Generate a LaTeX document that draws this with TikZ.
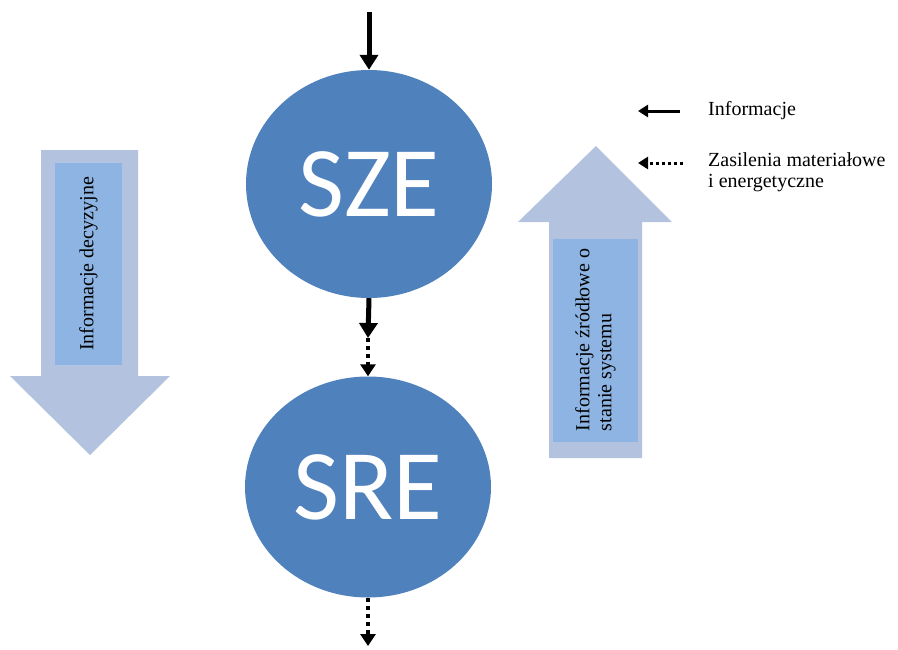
\documentclass[tikz,border=0pt]{standalone}
\usepackage{fontspec}
\setmainfont{Liberation Serif}
\newfontfamily\kolofont{Carlito}
\usetikzlibrary{shapes.geometric,arrows.meta}
\definecolor{kolo}{HTML}{4F81BD}
\definecolor{strzalka}{HTML}{B3C3DF}
\definecolor{pole}{HTML}{8DB4E2}
\tikzset{
  uklad/.style={ellipse,fill=kolo,inner sep=0pt,minimum width=246pt,
    text=white,font=\kolofont\fontsize{100}{100}\selectfont},
  info/.style={line width=5pt,-{Triangle[width=18pt,length=15pt]}},
  zasil/.style={line width=4pt,dash pattern=on 4pt off 4pt,
    -{Triangle[width=15pt,length=12pt]}},
  poleopis/.style={fill=pole,inner sep=0pt,rotate=90,
    font=\fontsize{20}{22}\selectfont},
  legenda/.style={font=\fontsize{20}{21}\selectfont,align=left,anchor=west,inner sep=0pt}
}
\begin{document}
\begin{tikzpicture}[x=1pt,y=-1pt]
  \useasboundingbox (0,0) rectangle (898,649);
  % duze strzalki - tlo
  \fill[strzalka] (41,150) -- (138,150) -- (138,376) -- (170,376) -- (90,455)
    -- (10,376) -- (41,376) -- cycle;
  \fill[strzalka] (549,458) -- (549,222) -- (518,222) -- (596,146) -- (672,222)
    -- (642,222) -- (642,458) -- cycle;
  \node[poleopis,minimum width=202pt,minimum height=67pt] (decyzje) at (88.5,264)
    {Informacje decyzyjne};
  \node[poleopis,minimum width=203pt,minimum height=85pt,align=left] (zrodlo) at (595.5,340)
    {Informacje źródłowe o\\stanie systemu};

  % uklady SZE i SRE
  \node[uklad,minimum height=228pt] (sze) at (369,184) {SZE};
  \node[uklad,minimum height=221pt] (sre) at (368,487) {SRE};

  % przeplywy
  \coordinate (wej) at (369,12);
  \coordinate (srodek) at (368,338);
  \coordinate (wyj) at (368,646);
  \draw[info] (wej) -- (sze.north);
  \draw[info] (sze.south) -- (srodek);
  \draw[zasil] (srodek) -- (sre.north);
  \draw[zasil] (sre.south) -- (wyj);

  % legenda
  \coordinate (L1) at (680,111);
  \coordinate (L1k) at (638,111);
  \coordinate (L2) at (683,163);
  \coordinate (L2k) at (638,163);
  \draw[line width=3pt,-{Triangle[width=12pt,length=10pt]}] (L1) -- (L1k);
  \draw[line width=3pt,dash pattern=on 3pt off 3pt,-{Triangle[width=12pt,length=10pt]}] (L2) -- (L2k);
  \node[legenda] (leg1) at (708,111) {Informacje};
  \node[legenda] (leg2) at (708,172) {Zasilenia materiałowe\\i energetyczne};
\end{tikzpicture}
\end{document}
